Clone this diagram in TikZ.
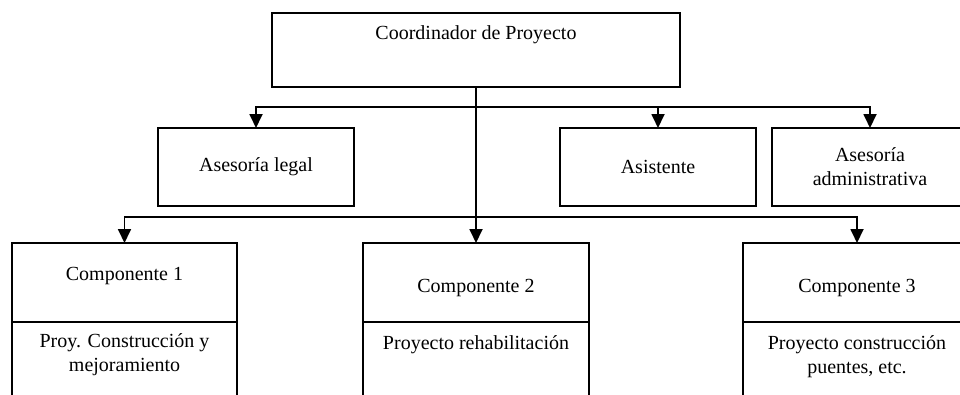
\documentclass[tikz,border=0pt]{standalone}
\usepackage{fontspec}
\setmainfont{Liberation Serif}
\usetikzlibrary{positioning,arrows.meta}

\begin{document}
\begin{tikzpicture}[x=1pt, y=-1pt,
  box/.style={draw, line width=1.8pt, inner sep=0pt, outer sep=0pt, align=center, font=\fontsize{20}{24}\selectfont},
  txt/.style={inner sep=0pt, align=center, font=\fontsize{20}{24}\selectfont},
  arr/.style={line width=1.8pt, -{Triangle[length=14pt, width=13pt]}}]
  \useasboundingbox (0,0) rectangle (960,394);
  \node (coord) [box, minimum width=408pt, text height=26pt, text depth=48pt] at (476, 50) {Coordinador de Proyecto};
  \node (legal) [box, minimum width=196pt, minimum height=78pt] at (256, 167) {Asesoría legal};
  \node (asist) [box, minimum width=196pt, minimum height=78pt] at (658, 167) {Asistente};
  \node (admin) [box, minimum width=196pt, minimum height=78pt] at (870, 167) {Asesoría\\administrativa};
  \node (c1head) [box, minimum width=225pt, minimum height=79pt, text height=14pt, text depth=19pt] at (124.5, 282.5) {Componente 1};
  \node (c2head) [box, minimum width=226pt, minimum height=79pt, text height=23pt, text depth=4pt] at (476, 282.5) {Componente 2};
  \node (c3head) [box, minimum width=228pt, minimum height=79pt, text height=23pt, text depth=4pt] at (857, 282.5) {Componente 3};
  \node (c1body) [box, minimum width=225pt, minimum height=80pt, below=0pt of c1head] {};
  \node (c2body) [box, minimum width=226pt, minimum height=80pt, below=0pt of c2head] {};
  \node (c3body) [box, minimum width=228pt, minimum height=80pt, below=0pt of c3head] {};
  \node (c1txt) [txt, below=11pt of c1body.north] {Proy. Construcción y\\mejoramiento};
  \node (c2txt) [txt, below=13pt of c2body.north] {Proyecto rehabilitación};
  \node (c3txt) [txt, below=13pt of c3body.north] {Proyecto construcción\\puentes, etc.};
  \coordinate (j1) at (476, 107);
  \coordinate (j2) at (476, 217);
  \draw[arr] (coord.south) -- (c2head.north);
  \draw[arr] (j1) -| (legal.north);
  \draw[arr] (j1) -| (asist.north);
  \draw[arr] (j1) -| (admin.north);
  \draw[arr] (j2) -| (c1head.north);
  \draw[arr] (j2) -| (c3head.north);
\end{tikzpicture}
\end{document}
